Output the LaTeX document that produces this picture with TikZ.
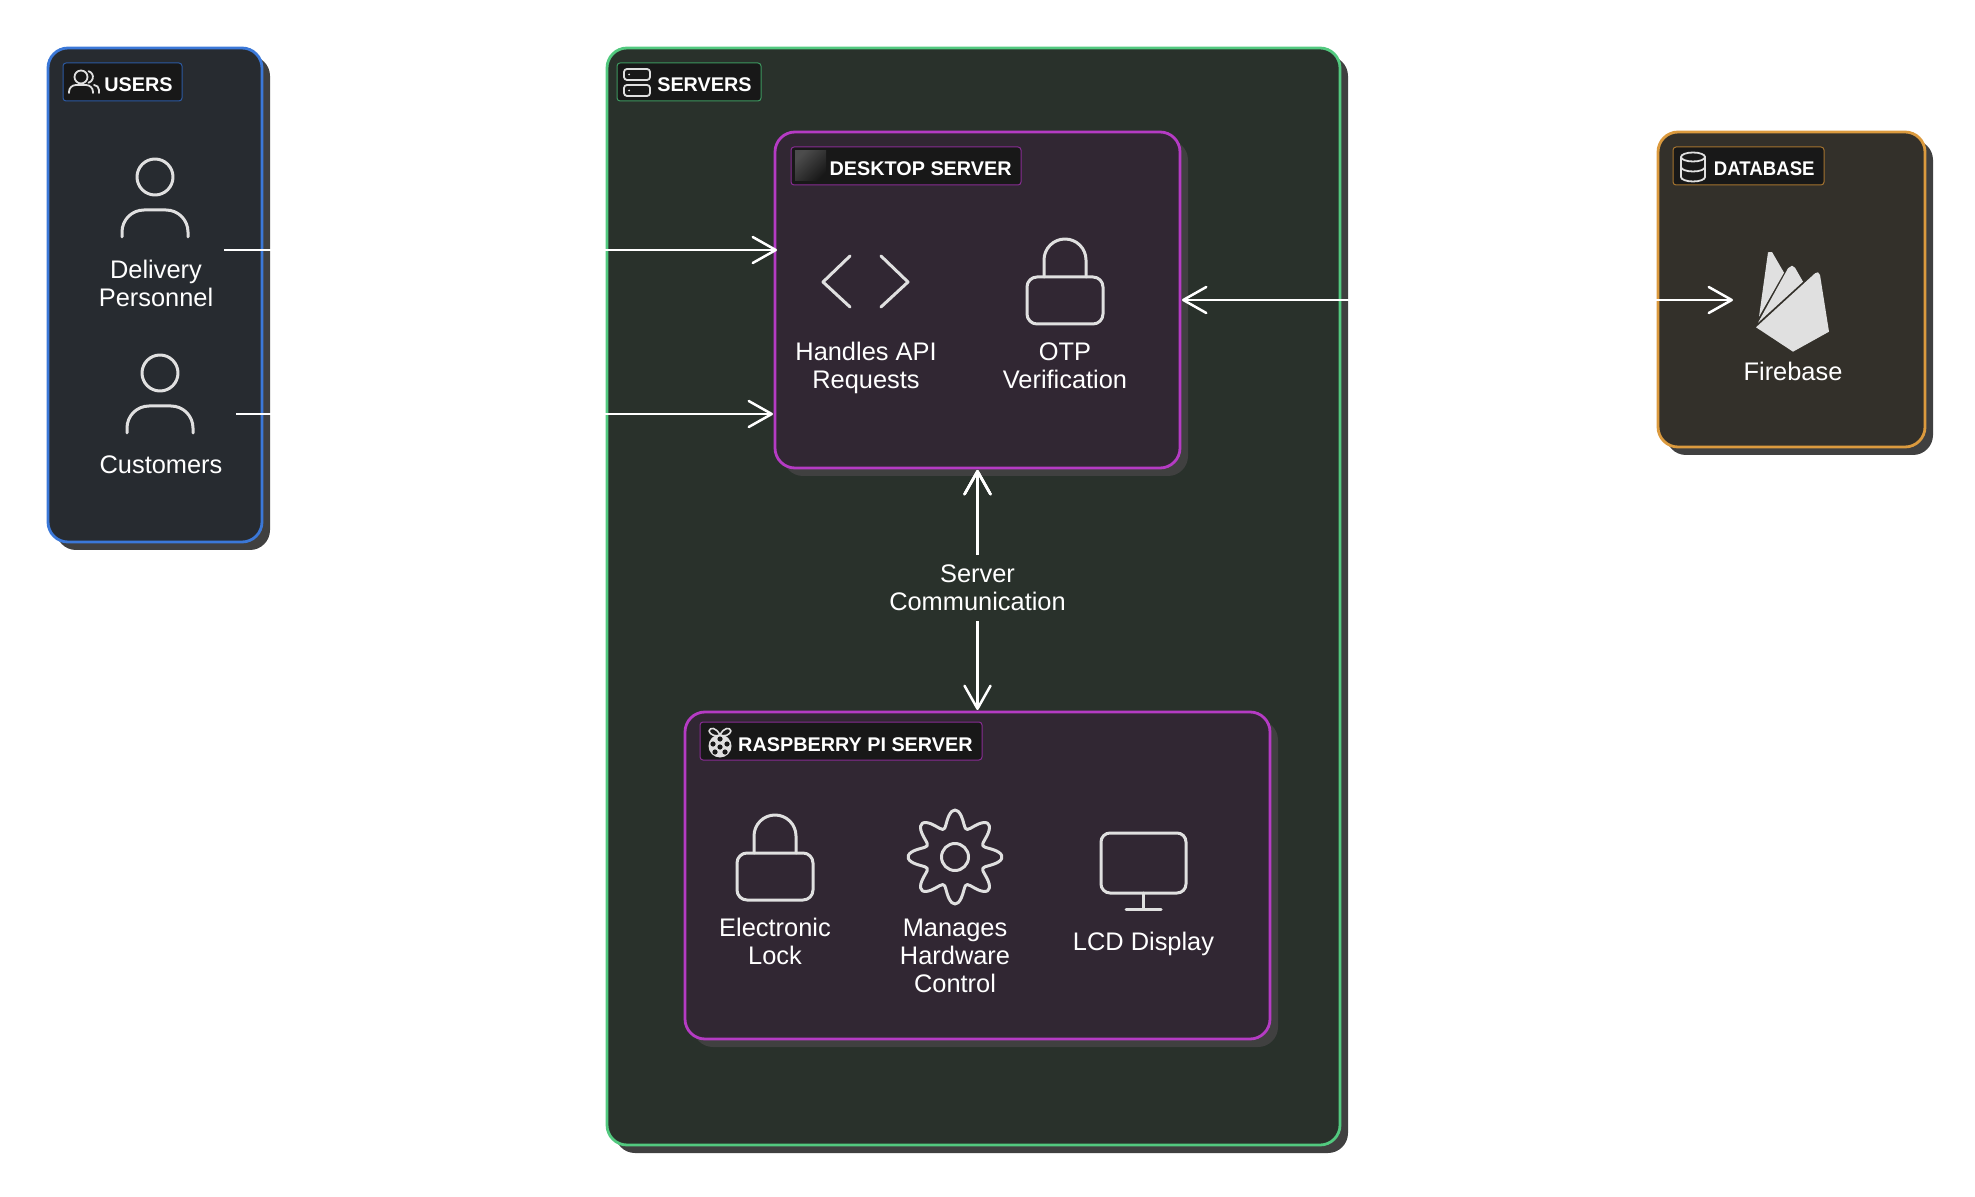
\documentclass[tikz,border=0pt]{standalone}
\usepackage{fontspec}
\setmainfont{Liberation Sans}
\usetikzlibrary{arrows.meta}
\definecolor{usersfill}{HTML}{272B30}
\definecolor{usersline}{HTML}{3B78D8}
\definecolor{serversfill}{HTML}{29312B}
\definecolor{serversline}{HTML}{52C97F}
\definecolor{deskfill}{HTML}{312733}
\definecolor{deskline}{HTML}{B53BC4}
\definecolor{dbfill}{HTML}{33302A}
\definecolor{dbline}{HTML}{DB9A3E}
\definecolor{shadowgrey}{HTML}{404040}
\definecolor{labelfill}{HTML}{181818}
\definecolor{iconline}{HTML}{E0E0E0}
\tikzset{
  groupbox/.style 2 args={rectangle, rounded corners=10pt, anchor=north west, inner sep=0pt, outer sep=0pt, line width=1.4pt, draw=#1, fill=#2},
  shadowbox/.style={rectangle, rounded corners=10pt, anchor=north west, inner sep=0pt, outer sep=0pt, fill=shadowgrey},
  grouplabel/.style={rectangle, rounded corners=1.5pt, anchor=north west, inner sep=0pt, outer sep=0pt, line width=0.5pt, fill=labelfill, draw=#1!75!black},
  labeltext/.style={text=white, inner sep=0pt, anchor=base east, font=\fontsize{9.9}{12}\selectfont\bfseries},
  itemtext/.style={text=white, inner sep=0pt, align=center, anchor=base, font=\fontsize{12.7}{14}\selectfont},
  itemspot/.style={rectangle, inner sep=0pt, outer sep=0pt},
  iconpath/.style={draw=iconline, line width=1.5pt, line cap=round, line join=round},
  smallicon/.style={draw=iconline, line width=0.9pt, line cap=round, line join=round},
  flow/.style={draw=white, line width=1.25pt, {Straight Barb[length=11.5pt, width=13pt, round]}-{Straight Barb[length=11.5pt, width=13pt, round]}},
  flowin/.style={draw=white, line width=1.25pt, -{Straight Barb[length=11.5pt, width=13pt, round]}},
  personicon/.pic={
    \draw[iconpath] (0,0) circle (18);
    \draw[iconpath] (-33,60) -- (-33,55) arc[start angle=180, end angle=270, radius=22] -- (11,33) arc[start angle=270, end angle=360, radius=22] -- (33,60);
  },
  lockicon/.pic={
    \draw[iconpath, rounded corners=5pt] (-38,38) rectangle (38,85);
    \draw[iconpath] (-21,38) -- (-21,21) arc[start angle=180, end angle=360, radius=21] -- (21,38);
  }
}
\begin{document}
\begin{tikzpicture}[x=0.5pt, y=-0.5pt]
  \useasboundingbox (0,0) rectangle (1975,1197);

  % boxes with their shadows
  \node[shadowbox, minimum width=107pt, minimum height=247pt] at (56,56) {};
  \node[groupbox={usersline}{usersfill}, minimum width=107pt, minimum height=247pt] (users) at (48,48) {};
  \node[shadowbox, minimum width=366.5pt, minimum height=548.5pt] at (615,56) {};
  \node[groupbox={serversline}{serversfill}, minimum width=366.5pt, minimum height=548.5pt] (servers) at (607,48) {};
  \node[shadowbox, minimum width=202.5pt, minimum height=168pt] at (783,140) {};
  \node[groupbox={deskline}{deskfill}, minimum width=202.5pt, minimum height=168pt] (desktop) at (775,132) {};
  \node[shadowbox, minimum width=292.5pt, minimum height=163.5pt] at (693,720) {};
  \node[groupbox={deskline}{deskfill}, minimum width=292.5pt, minimum height=163.5pt] (raspberry) at (685,712) {};
  \node[shadowbox, minimum width=133.5pt, minimum height=157.5pt] at (1666,140) {};
  \node[groupbox={dbline}{dbfill}, minimum width=133.5pt, minimum height=157.5pt] (database) at (1658,132) {};

  % group labels
  \node[grouplabel=usersline, minimum width=59.5pt, minimum height=19pt] (userstag) at (63,63) {};
  \node[labeltext] (userstext) at (173,92) {USERS};
  \node[grouplabel=serversline, minimum width=72pt, minimum height=19pt] (serverstag) at (617,63) {};
  \node[labeltext] (serverstext) at (752,92) {SERVERS};
  \node[grouplabel=deskline, minimum width=115pt, minimum height=19pt] (desktoptag) at (791,147) {};
  \node[labeltext] (desktoptext) at (1012,176) {DESKTOP SERVER};
  \node[grouplabel=deskline, minimum width=141pt, minimum height=19pt] (raspberrytag) at (700,722) {};
  \node[labeltext] (raspberrytext) at (973,751) {RASPBERRY PI SERVER};
  \node[grouplabel=dbline, minimum width=75.5pt, minimum height=19pt] (databasetag) at (1673,147) {};
  \node[labeltext] (databasetext) at (1815,176) {\scalebox{.94}[1]{DATABASE}};

  % small icons of the labels
  \draw[smallicon] (81,77) circle (6.5);
  \draw[smallicon] (69,93) -- (69,92) arc[start angle=180, end angle=270, radius=7] -- (86,85) arc[start angle=270, end angle=360, radius=7] -- (93,93);
  \draw[smallicon] (88.5,71.2) arc[start angle=-75, end angle=75, radius=6];
  \draw[smallicon] (94,85) arc[start angle=270, end angle=360, radius=5] -- (99,93);
  \draw[smallicon, rounded corners=1.5pt] (624,69) rectangle (650,80);
  \draw[smallicon, rounded corners=1.5pt] (624,85) rectangle (650,96);
  \fill[iconline] (629,74.5) circle (1) (629,90.5) circle (1);
  \shade[left color=black!70, right color=labelfill, shading angle=45] (795,151) rectangle (826,181);
  \draw[smallicon] (1681,157) arc[start angle=180, end angle=-180, x radius=12, y radius=4.5];
  \draw[smallicon] (1681,157) -- (1681,177) arc[start angle=180, end angle=360, x radius=12, y radius=-4.5] -- (1705,157);
  \draw[smallicon] (1681,167) arc[start angle=180, end angle=360, x radius=12, y radius=-4.5];

  % raspberry
  \fill[iconline] (720,746) circle (11.5);
  \foreach \dx/\dy in {0/1,0/-7,-7/-2,7/-2,-5/6,5/6}
    \fill[labelfill] ({720+\dx},{746+\dy}) circle (2.6);
  \draw[smallicon, line width=0.8pt] (720,735) .. controls (716,727) and (710,727) .. (709,731) .. controls (710,735) and (716,737) .. (720,735);
  \draw[smallicon, line width=0.8pt] (720,735) .. controls (724,727) and (730,727) .. (731,731) .. controls (730,735) and (724,737) .. (720,735);

  % users
  \pic at (155,177) {personicon};
  \node[itemtext] (deliverytext) at (156,306.5) {Delivery\\Personnel};
  \node[itemspot, minimum width=68pt, minimum height=90pt] (delivery) at (156,250) {};
  \pic at (160,373) {personicon};
  \node[itemtext] (customerstext) at (161,474) {Customers};
  \node[itemspot, minimum width=75pt, minimum height=60pt] (customers) at (161,414) {};

  % desktop server
  \draw[iconpath] (850,256) -- (823,282) -- (850,307);
  \draw[iconpath] (881,256) -- (908,282) -- (881,307);
  \node[itemtext] (apitext) at (866,389) {Handles API\\Requests};
  \pic at (1065,239) {lockicon};
  \node[itemtext] (otptext) at (1065,389) {OTP\\Verification};

  % raspberry pi server
  \pic at (775,815) {lockicon};
  \node[itemtext] (locktext) at (775,964) {Electronic\\Lock};
  \draw[iconpath] (955,857) circle (13.5);
  \draw[iconpath] plot[smooth cycle, domain=0:356, samples=90] ({955+(38.5+8.5*cos(8*\x))*sin(\x)},{857+(38.5+8.5*cos(8*\x))*cos(\x)});
  \node[itemtext] (hardwaretext) at (955,992) {Manages\\Hardware\\Control};
  \draw[iconpath, rounded corners=4.5pt] (1101,833) rectangle (1186,893);
  \draw[iconpath] (1143.5,893) -- (1143.5,909);
  \draw[iconpath] (1126,909) -- (1161,909);
  \node[itemtext] (lcdtext) at (1143.5,950) {LCD Display};

  % firebase
  \fill[iconline] (1768,252.3) -- (1772,252) -- (1784,272.7) -- (1759,316.7) -- cycle;
  \fill[iconline] (1758,322.7) -- (1788,268.3) -- (1792,265.7) -- (1795,267.7) -- (1803,281.7) -- cycle;
  \fill[iconline] (1756,327.3) -- (1815,273.3) -- (1818,272.3) -- (1820,275) -- (1829,331.7) -- (1793,351.7) -- cycle;
  \node[itemtext] (firebasetext) at (1793,381) {Firebase};
  \node[itemspot, minimum width=60pt, minimum height=50pt] (firebase) at (1793,300) {};

  % connectors
  \draw[flowin, shorten >=-1pt] (delivery.east) -- (delivery.east -| desktop.west);
  \draw[flowin, shorten >=1pt] (customers.east) -- (customers.east -| desktop.west);
  \draw[flow, shorten >=1pt] (firebase.west) -- (firebase.west -| desktop.east);
  \path[flow, shorten <=1pt, shorten >=1pt] (desktop.south) edge node[itemtext, anchor=center, pos=.49, fill=serversfill, inner ysep=5pt] {Server\\Communication} (raspberry.north);
\end{tikzpicture}
\end{document}
